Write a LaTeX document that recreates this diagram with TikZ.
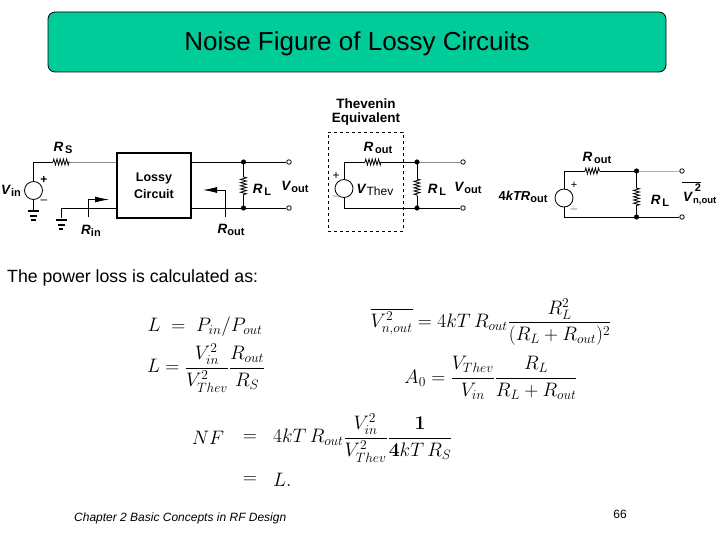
\documentclass[tikz,border=0pt]{standalone}
\usepackage[no-math]{fontspec}
\usepackage{amsmath}
\setmainfont{Liberation Sans}
\usetikzlibrary{decorations.pathmorphing,arrows.meta}

\newcommand{\lbl}[2]{{\fontsize{13.5}{14}\selectfont\textbf{\textit{#1}}}\raisebox{-2pt}{\fontsize{11}{12}\selectfont\textbf{#2}}}

\definecolor{titlegreen}{RGB}{0,204,153}

\tikzset{
	wire/.style={black,line width=0.8pt},
	greywire/.style={black!45,line width=0.8pt},
	res/.style={black,line width=0.8pt,decorate,decoration={zigzag,segment length=3.2pt,amplitude=3pt}},
	source/.style={circle,draw,line width=0.8pt,minimum size=18pt,inner sep=0pt},
	port/.style={circle,draw,line width=0.8pt,minimum size=4.5pt,inner sep=0pt},
	probe/.style={black,line width=0.8pt,-{Latex[length=14pt,width=6pt]}},
	lab/.style={font=\fontsize{12}{13}\selectfont,inner sep=0pt},
	eq/.style={font=\fontsize{20.74}{22}\selectfont,inner sep=0pt,scale=0.94},
	note/.style={font=\fontsize{12}{14}\selectfont\itshape,inner sep=0pt},
	gnd/.pic={
		\fill (-5.5,0) rectangle (5.5,1.6);
		\fill (-3.5,4.2) rectangle (3.5,6.2);
		\fill (-2.2,8.6) rectangle (2.2,10.8);
	}
}

\begin{document}
\begin{tikzpicture}[x=1pt,y=-1pt]
	\useasboundingbox (0,0) rectangle (720,540);

	% title
	\node[draw=black,line width=0.8pt,fill=titlegreen,rounded corners=7pt,minimum width=618pt,minimum height=60pt,font=\fontsize{26}{28}\selectfont] (title) at (357,42) {\raisebox{-8.5pt}[0pt][0pt]{Noise Figure of Lossy Circuits}};

	% first circuit
	\node[source] (vin) at (33.5,190.5) {};
	\node[draw,line width=2.6pt,minimum width=74pt,minimum height=65pt,align=center,font=\fontsize{12.5}{17}\selectfont\bfseries] (lossy) at (154,185.5) {Lossy\\Circuit};
	\node[port] (outa) at (289,162) {};
	\node[port] (outb) at (289,208) {};
	\coordinate (vintop) at (33.5,162);
	\coordinate (vingnd) at (33.5,210);
	\coordinate (rsa) at (53,162);
	\coordinate (rsb) at (70,162);
	\coordinate (boxa) at (116,162);
	\coordinate (boxb) at (116,208);
	\coordinate (boxc) at (192,162);
	\coordinate (boxd) at (192,208);
	\coordinate (gnda) at (61,208);
	\coordinate (gndb) at (61,218);
	\coordinate (dota) at (243.5,162);
	\coordinate (dotb) at (243.5,208);
	\coordinate (rla) at (243.5,177);
	\coordinate (rlb) at (243.5,195);
	\draw[wire] (vin) -- (vintop) -- (rsa);
	\draw[res] (rsa) -- (rsb);
	\draw[greywire] (rsb) -- (boxa);
	\draw[wire] (vin) -- (vingnd);
	\draw[wire] (boxb) -- (gnda) -- (gndb);
	\draw[wire] (boxc) -- (outa);
	\draw[wire] (boxd) -- (outb);
	\draw[wire] (dota) -- (rla);
	\draw[res] (rla) -- (rlb);
	\draw[wire] (rlb) -- (dotb);
	\filldraw[black] (dota) circle (2.3pt);
	\filldraw[black] (dotb) circle (2.3pt);
	\pic at (33.5,210.5) {gnd};
	\pic at (61,219.5) {gnd};
	\coordinate (rina) at (88,217);
	\coordinate (rinb) at (88,199.5);
	\coordinate (rinc) at (109,199.5);
	\coordinate (routa) at (225,217);
	\coordinate (routb) at (225,190);
	\coordinate (routc) at (203,190);
	\draw[probe] (rina) -- (rinb) -- (rinc);
	\draw[probe] (routa) -- (routb) -- (routc);
	\node[lab] (vinlab) at (11,191) {\lbl{V}{in}};
	\node[lab] (rslab) at (63,148) {\lbl{R}{\,S}};
	\node[lab] (pluslab) at (44,180) {\textbf{+}};
	\node[lab] (minuslab) at (44,202) {--};
	\node[lab] (rinlab) at (91,231) {\lbl{R}{in}};
	\node[lab] (routlab) at (231,230) {\lbl{R}{out}};
	\node[lab] (rllab) at (262,190) {\lbl{R}{\,L}};
	\node[lab] (voutlab) at (295,187) {\lbl{V}{out}};

	% thevenin circuit
	\node[lab,font=\fontsize{13.5}{14.5}\selectfont\bfseries,align=center] (thevlab) at (366,112) {Thevenin\\Equivalent};
	\node[draw,dashed,line width=0.7pt,minimum width=75pt,minimum height=99pt] (thevbox) at (365.5,181.5) {};
	\node[source] (vthev) at (344,188.5) {};
	\node[port] (theva) at (463,162) {};
	\node[port] (thevb) at (463,208) {};
	\coordinate (thevtop) at (344,162);
	\coordinate (thevbot) at (344,208);
	\coordinate (rtha) at (365,162);
	\coordinate (rthb) at (381,162);
	\coordinate (dotc) at (417,162);
	\coordinate (dotd) at (417,208);
	\coordinate (rlc) at (417,179);
	\coordinate (rld) at (417,196);
	\draw[wire] (vthev) -- (thevtop) -- (rtha);
	\draw[res] (rtha) -- (rthb);
	\draw[wire] (rthb) -- (dotc);
	\draw[greywire] (dotc) -- (theva);
	\draw[wire] (vthev) -- (thevbot) -- (dotd);
	\draw[wire] (dotd) -- (thevb);
	\draw[wire] (dotc) -- (rlc);
	\draw[res] (rlc) -- (rld);
	\draw[wire] (rld) -- (dotd);
	\filldraw[black] (dotc) circle (2.3pt);
	\filldraw[black] (dotd) circle (2.3pt);
	\node[lab] (rthlab) at (378,148) {\lbl{R}{\,out}};
	\node[lab] (vthevlab) at (375,190) {{\fontsize{13.5}{14}\selectfont\textbf{\textit{V}}}\raisebox{-2pt}{Thev}};
	\node[lab] (thevplus) at (336,176) {+};
	\node[lab,text=black!40] (thevminus) at (336,198) {--};
	\node[lab] (rllabb) at (437,190) {\lbl{R}{\,L}};
	\node[lab] (voutlabb) at (468,188) {\lbl{V}{out}};

	% noise circuit
	\node[source] (vnoise) at (564,198) {};
	\node[port] (noisea) at (682,171) {};
	\node[port] (noiseb) at (682,217) {};
	\coordinate (noisetop) at (564,171);
	\coordinate (noisebot) at (564,217);
	\coordinate (rna) at (585,171);
	\coordinate (rnb) at (600,171);
	\coordinate (dote) at (636.5,171);
	\coordinate (dotf) at (636.5,217);
	\coordinate (rle) at (636.5,188);
	\coordinate (rlf) at (636.5,206);
	\draw[wire] (vnoise) -- (noisetop) -- (rna);
	\draw[res] (rna) -- (rnb);
	\draw[wire] (rnb) -- (dote);
	\draw[black!30,line width=0.8pt] (dote) -- (noisea);
	\draw[wire] (vnoise) -- (noisebot) -- (dotf);
	\draw[wire] (dotf) -- (noiseb);
	\draw[wire] (dote) -- (rle);
	\draw[res] (rle) -- (rlf);
	\draw[wire] (rlf) -- (dotf);
	\filldraw[black] (dote) circle (2.3pt);
	\filldraw[black] (dotf) circle (2.3pt);
	\node[lab] (rnlab) at (597,158) {\lbl{R}{\,out}};
	\node[lab,font=\fontsize{13}{14}\selectfont] (ktlab) at (523,197) {\textbf{4\textit{kTR}}\raisebox{-2pt}{\fontsize{11}{12}\selectfont\textbf{out}}};
	\node[lab,font=\fontsize{11}{13}\selectfont] (noiseplus) at (574,185) {+};
	\node[lab,text=black!50] (noiseminus) at (574,211) {--};
	\node[lab] (rllabc) at (660,201) {\lbl{R}{\,L}};
	\node[lab,anchor=west] (vnlab) at (683,199) {{\fontsize{13.5}{14}\selectfont\textbf{\textit{V}}}\raisebox{-2pt}{\fontsize{9.5}{10}\selectfont\textbf{n,out}}};
	\node[lab,font=\fontsize{11}{11}\selectfont\bfseries] (vnsq) at (698,188) {2};
	\coordinate (bara) at (682,183);
	\coordinate (barb) at (701,183);
	\draw[line width=1pt] (bara) -- (barb);

	% text
	\node[font=\fontsize{17.7}{20}\selectfont,anchor=west,inner sep=0pt] (losstext) at (7,278) {The power loss is calculated as:};

	% equations
	\node[eq] (eqa) at (205,327) {$L\;=\;P_{in}/P_{out}$};
	\node[eq] (eqb) at (206,368) {$L=\dfrac{V_{in}^2}{V_{Thev}^2}\dfrac{R_{out}}{R_S}$};
	\node[eq] (eqc) at (491,322) {$\overline{V_{n,out}^2}=4kT\,R_{out}\dfrac{R_L^2}{(R_L+R_{out})^2}$};
	\node[eq] (eqd) at (491,378) {$A_0=\dfrac{V_{Thev}}{V_{in}}\dfrac{R_L}{R_L+R_{out}}$};
	\node[eq] (eqe) at (208,438) {$NF$};
	\node[eq] (eqf) at (250,438) {$=$};
	\node[eq,anchor=west] (eqg) at (273,438) {$4kT\,R_{out}\dfrac{V_{in}^2}{V_{Thev}^2}\dfrac{\mathbf{1}}{\mathbf{4}kT\,R_S}$};
	\node[eq] (eqh) at (250,480) {$=$};
	\node[eq,anchor=west] (eqi) at (273,480) {$L.$};

	% footer
	\node[note,anchor=west] (chapter) at (74,518) {Chapter 2 Basic Concepts in RF Design};
	\node[font=\fontsize{12}{14}\selectfont,inner sep=0pt] (pagenum) at (620,514) {66};
\end{tikzpicture}
\end{document}
